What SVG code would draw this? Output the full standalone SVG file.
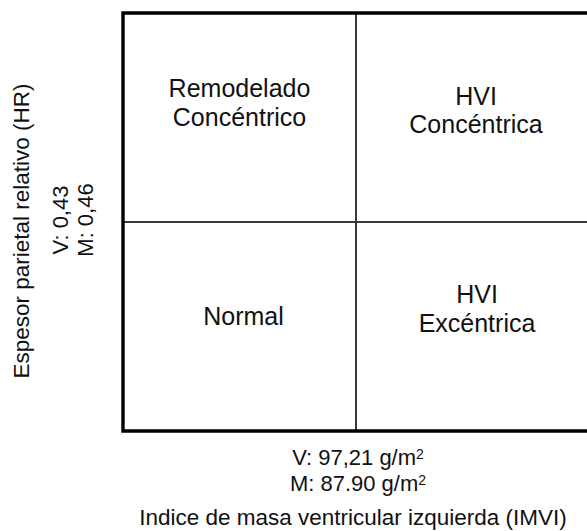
<svg xmlns="http://www.w3.org/2000/svg" width="587" height="531" viewBox="0 0 587 531">
<style>
text{font-family:"Liberation Sans",Arial,sans-serif;fill:#111;}
.q{font-size:25px;text-anchor:middle;}
.ax{font-size:22.5px;text-anchor:middle;}
.v{font-size:22px;text-anchor:middle;}
.frame{fill:none;stroke:#000;stroke-width:3.4;stroke-linecap:square;}
.div{fill:none;stroke:#3a3a3a;stroke-width:2;}
</style>
<rect width="587" height="531" fill="#fff"/>
<g id="connectors">
<path class="div" d="M356,13 V431"/>
<path class="div" d="M123,222 H587"/>
<path class="frame" d="M590,13 H123 V431 H590"/>
</g>
<g id="remodelado">
<text class="q" x="239.5" y="97">Remodelado</text>
<text class="q" x="239.5" y="126">Concéntrico</text>
</g>
<g id="hvi-concentrica">
<text class="q" x="476" y="105">HVI</text>
<text class="q" x="476" y="133">Concéntrica</text>
</g>
<g id="normal">
<text class="q" x="243.5" y="325">Normal</text>
</g>
<g id="hvi-excentrica">
<text class="q" x="477" y="303">HVI</text>
<text class="q" x="477" y="332">Excéntrica</text>
</g>
<g id="y-axis">
<text class="ax" transform="translate(29,231) rotate(-90)">Espesor parietal relativo (HR)</text>
<text class="v" transform="translate(68,220) rotate(-90)">V: 0,43</text>
<text class="v" transform="translate(93,220) rotate(-90)">M: 0,46</text>
</g>
<g id="x-axis">
<text class="v" x="358" y="465">V: 97,21 g/m<tspan font-size="14" dy="-6">2</tspan></text>
<text class="v" x="358" y="491">M: 87.90 g/m<tspan font-size="14" dy="-6">2</tspan></text>
<text class="ax" x="353" y="525">Indice de masa ventricular izquierda (IMVI)</text>
</g>
</svg>
